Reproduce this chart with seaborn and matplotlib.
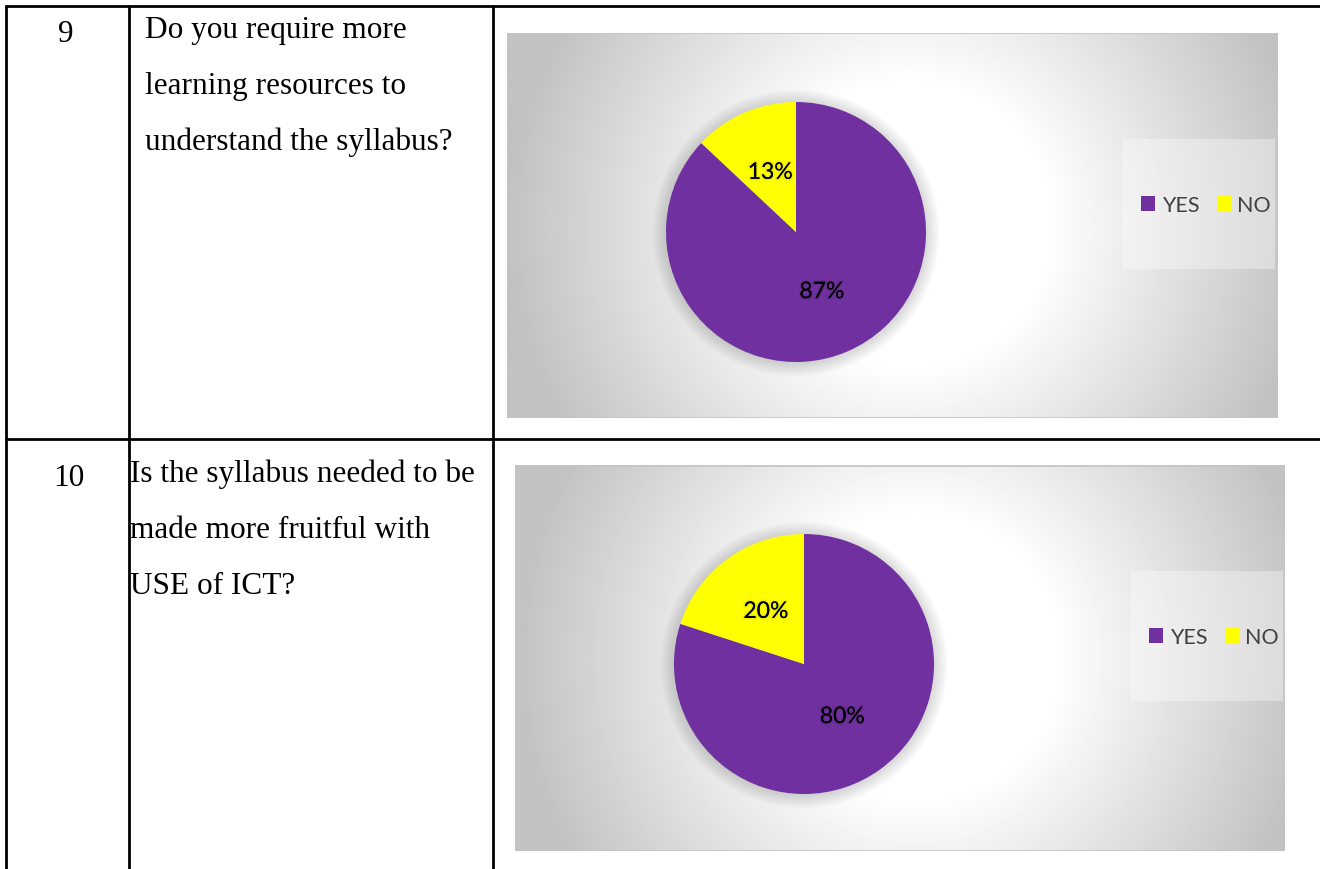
import matplotlib
matplotlib.use("Agg")
import matplotlib.pyplot as plt
import matplotlib.patheffects as pe
from matplotlib.patches import Circle, Rectangle
import seaborn as sns
import numpy as np

# table content
row_numbers = ["9", "10"]
questions = [
    ["Do you require more", "learning resources to", "understand the syllabus?"],
    ["Is the syllabus needed to be", "made more fruitful with", "USE of ICT?"],
]
answer_labels = ["YES", "NO"]
yes_share = [87, 80]
no_share = [13, 20]

sns.set_theme(style="white")
palette = sns.color_palette(["#7030A0", "#FFFF00"])
plt.rcParams["font.family"] = ["Lato", "DejaVu Sans"]

W, H = 1320, 870
fig = plt.figure(figsize=(W / 100, H / 100), dpi=100)
fig.patch.set_facecolor("white")

# full-figure axes for the table grid and question text (pixel coords)
bg = fig.add_axes([0, 0, 1, 1])
bg.set_xlim(0, W)
bg.set_ylim(H, 0)
bg.axis("off")

lw = 2.0
bg.plot([5, W], [7, 7], color="black", lw=lw, solid_capstyle="butt")
bg.plot([5, W], [440, 440], color="black", lw=lw, solid_capstyle="butt")
for x in [6, 129, 493]:
    bg.plot([x, x], [6, H], color="black", lw=lw, solid_capstyle="butt")

serif = ["Liberation Serif", "DejaVu Serif"]
row_base = [38, 482]
num_x = [66, 69]
text_x = [145, 130]
for i in range(2):
    bg.text(num_x[i], row_base[i] + 4, row_numbers[i], ha="center", va="baseline",
            fontsize=22.5, family=serif, color="black")
    for j, line in enumerate(questions[i]):
        bg.text(text_x[i], row_base[i] + 56 * j, line, ha="left", va="baseline",
                fontsize=22.5, family=serif, color="black")

# chart boxes (pixel positions)
boxes = [(507, 34, 770, 385), (515, 466, 770, 386)]

for i, (x0, y0, bw, bh) in enumerate(boxes):
    ax = fig.add_axes([x0 / W, 1 - (y0 + bh) / H, bw / W, bh / H])

    # radial grey gradient background
    yy, xx = np.mgrid[0:bh, 0:bw]
    r = np.hypot(xx - bw * 0.52, yy - bh * 0.5)
    shade = 1 - 0.24 * np.clip((r - 140) / 260, 0, 1)
    ax.imshow(shade, extent=(0, bw, 0, bh), origin="lower", cmap="gray",
              vmin=0, vmax=1, aspect="auto", zorder=0, interpolation="bilinear")

    cx, cy, rad = 289, bh - 199, 130
    for k in range(7):
        ax.add_patch(Circle((cx, cy - 1), rad + 2.2 * k, color="black",
                            alpha=0.022, lw=0, zorder=1))

    wedges, _, autotexts = ax.pie(
        [yes_share[i], no_share[i]], colors=palette, startangle=90,
        counterclock=False, center=(cx, cy), radius=rad, frame=True,
        autopct="%1.0f%%", pctdistance=0.5,
        textprops=dict(fontsize=16.5, color="black"),
        wedgeprops=dict(linewidth=0, zorder=2),
    )
    for t in autotexts:
        t.set_zorder(3)
        t.set_path_effects([pe.withStroke(linewidth=2.5, foreground=(0, 0, 0, 0.06))])

    # legend band
    ax.add_patch(Rectangle((616, bh - 236), 152, 130, facecolor="white",
                           alpha=0.35, lw=0, zorder=1))
    ax.legend(wedges, answer_labels, ncol=2, loc="center",
              bbox_to_anchor=(699 / bw, (bh - 172) / bh), frameon=False,
              fontsize=15.5, labelcolor="#404040", handlelength=0.66,
              handleheight=0.66, handletextpad=0.3, columnspacing=0.8)

    ax.set_xlim(0, bw)
    ax.set_ylim(0, bh)
    ax.set_aspect("auto")
    ax.axis("off")
    ax.add_patch(Rectangle((0.5, 0.5), bw - 1, bh - 1, fill=False,
                           edgecolor="#c4c4c4", lw=1.2, zorder=4))

fig.savefig("out.png", dpi=100)
